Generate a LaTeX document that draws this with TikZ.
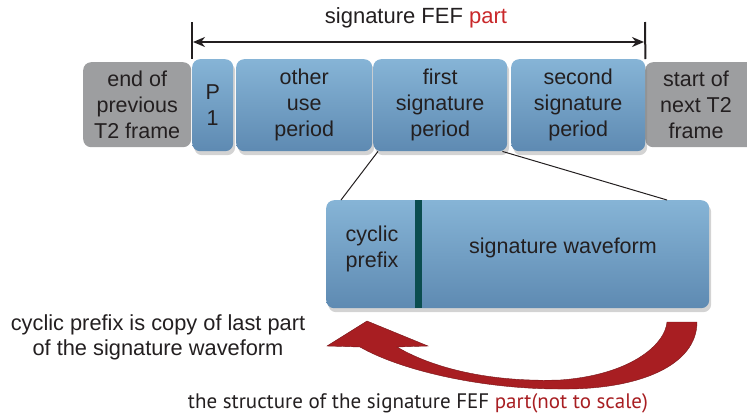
\documentclass[tikz,border=0pt]{standalone}
\usepackage{fontspec}
\setmainfont{Liberation Sans}
\newfontfamily\capfont{PT Sans}
\usetikzlibrary{shadows,calc,arrows.meta}
\definecolor{txt}{HTML}{231F20}
\definecolor{btop}{HTML}{86B4D6}
\definecolor{bmid}{HTML}{93C4E4}
\definecolor{bbot}{HTML}{5E8AB2}
\definecolor{gfill}{HTML}{9D9EA0}
\definecolor{redpart}{HTML}{C9282A}
\definecolor{darkred}{HTML}{A81E22}
\definecolor{divcol}{HTML}{0B4D4F}
\tikzset{
  blk/.style={rounded corners=8pt, top color=btop, middle color=bmid, bottom color=bbot,
    drop shadow={opacity=0.35, shadow xshift=2pt, shadow yshift=-4pt},
    align=center, text=txt, font=\fontsize{21.5}{26}\selectfont, inner sep=0pt, anchor=north west},
  gblk/.style={rounded corners=8pt, fill=gfill,
    align=center, text=txt, font=\fontsize{21.5}{26}\selectfont, inner sep=0pt, anchor=north west},
  lbl/.style={text=txt, align=center, inner sep=0pt},
  conn/.style={line width=1pt, draw=txt},
  dim/.style={line width=2pt, draw=txt},
}
\begin{document}
\begin{tikzpicture}[x=1pt,y=-1pt]
\useasboundingbox (0,0) rectangle (747,416);
\clip (0,0) rectangle (747,416);
% top row
\node[gblk, minimum width=108pt, minimum height=85pt] (prev) at (83,62) {end of\\previous\\T2 frame};
\node[gblk, minimum width=120pt, minimum height=85pt] (nextbox) at (645,62) {};
\node[lbl, font=\fontsize{21.5}{26}\selectfont] (next) at (696,104.5) {start of\\next T2\\frame};
\node[blk, minimum width=41pt, minimum height=92pt] (p1) at (192,59) {P\\1};
\node[blk, minimum width=136pt, minimum height=92pt] (other) at (236,59) {other\\use\\period};
\node[blk, minimum width=134pt, minimum height=92pt] (fsp) at (373,59) {first\\signature\\period};
\node[blk, minimum width=134pt, minimum height=92pt] (ssp) at (511,59) {second\\signature\\period};
% dimension arrow
\coordinate (tl1) at (192,22);
\coordinate (tl2) at (645,22);
\draw[dim] (tl1) -- (p1.north west);
\draw[dim] (tl2) -- (ssp.north east);
\coordinate (al) at (193,42);
\coordinate (ar) at (644,42);
\draw[dim, {Stealth[length=12pt,width=10pt]}-{Stealth[length=12pt,width=10pt]}] (al) -- (ar);
\node[lbl, font=\fontsize{22}{26}\selectfont] (title) at (416,18) {signature FEF \textcolor{redpart}{part}};
% lower box
\node[blk, minimum width=383pt, minimum height=108pt] (low) at (326,200) {};
\fill[divcol] (415,200) rectangle (422,308);
\node[lbl, font=\fontsize{21.5}{26}\selectfont] (cp) at (372,249) {cyclic\\prefix};
\node[lbl, font=\fontsize{21.5}{26}\selectfont] (sw) at (563,248) {signature waveform};
% connectors
\draw[conn] ($(fsp.south west)+(5,0)$) -- ($(low.north west)+(15,0)$);
\draw[conn] ($(fsp.south east)+(-5,0)$) -- ($(low.north west)+(341,0)$);
% red arrow
\fill[darkred, draw=darkred!70!black, line width=0.4pt] (367,321) -- (428,346) -- (397,347)
  .. controls (440,372) and (500,382) .. (560,380)
  .. controls (630,375) and (665,345) .. (667,322) -- (697,322)
  .. controls (697,365) and (640,390) .. (560,389)
  .. controls (480,389) and (400,370) .. (360,347) -- (327,346) -- cycle;
% texts
\node[lbl, font=\fontsize{21.8}{25}\selectfont] (note) at (158,337) {cyclic prefix is copy of last part\\of the signature waveform};
\node[lbl, font=\capfont\fontsize{21}{24}\selectfont] (cap) at (418,403) {the structure of the signature FEF \textcolor{darkred}{part(not to scale)}};
\end{tikzpicture}
\end{document}
